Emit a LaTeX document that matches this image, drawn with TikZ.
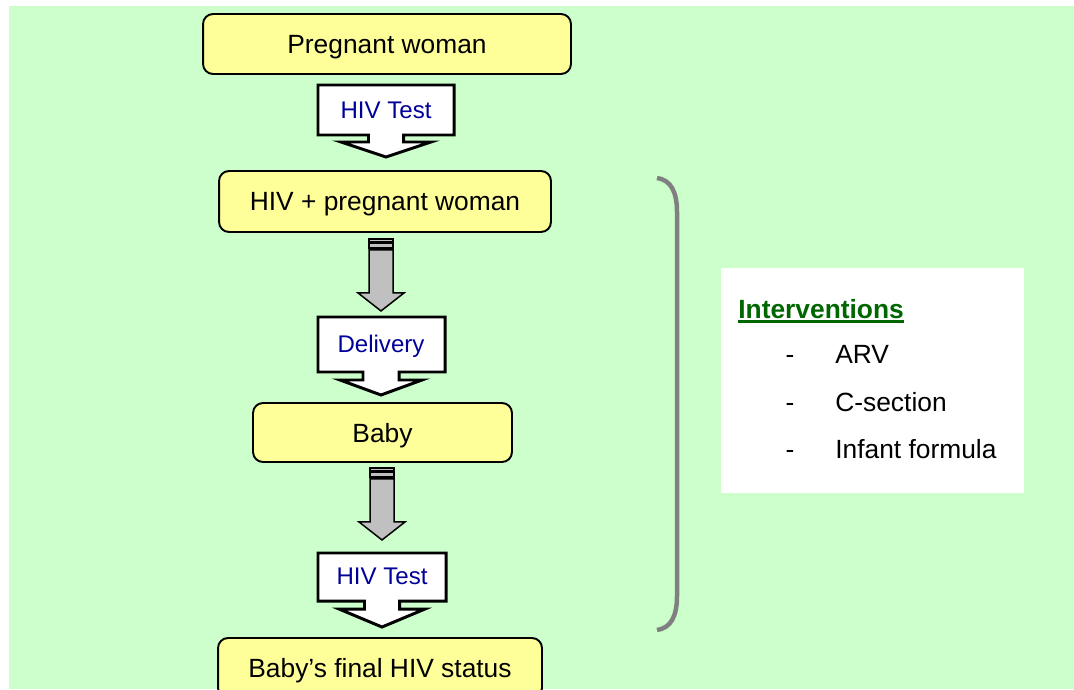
\documentclass[tikz,border=0pt]{standalone}
\usepackage{fontspec}
\setmainfont{Liberation Sans}
\usetikzlibrary{calc}
\definecolor{PageGreen}{RGB}{204,255,204}
\definecolor{BoxYellow}{RGB}{255,255,153}
\definecolor{LabelBlue}{RGB}{0,0,153}
\definecolor{TitleGreen}{RGB}{0,102,0}
\definecolor{ArrowGray}{RGB}{192,192,192}
\definecolor{BraceGray}{RGB}{128,128,128}

\begin{document}
\begin{tikzpicture}[x=0.02cm, y=-0.02cm, font=\fontsize{15}{18}\selectfont,
    stagebox/.style={draw, line width=1.1pt, rounded corners=5.7pt, fill=BoxYellow, minimum height=1.2cm, inner sep=0pt, text depth=0pt},
    callout/.style={draw, line width=1.7pt, fill=white, line join=miter},
    calloutlabel/.style={text=LabelBlue, font=\fontsize{13.7}{16}\selectfont, inner sep=0pt},
    listtext/.style={anchor=base west, inner sep=0pt},
    pics/grayarrow/.style={code={
      \draw[fill=ArrowGray, line width=0.85pt] (-12,0) rectangle (12,2.5);
      \draw[fill=ArrowGray, line width=0.85pt] (-12,4) rectangle (12,9);
      \draw[fill=ArrowGray, line width=0.85pt, line join=miter] (-12,11) -- (12,11) -- (12,54) -- (23,54) -- (0,72) -- (-23,54) -- (-12,54) -- cycle;
    }}]
      % page
      \useasboundingbox (0,0) rectangle (1074,689);
      \clip (0,0) rectangle (1074,689);
      \fill[PageGreen] (9,6) rectangle (1074,689);

      % stages
      \node[stagebox, minimum width=7.36cm] (preg) at (387,44) {Pregnant woman};
      \node[stagebox, minimum width=6.64cm, minimum height=1.22cm] (hivpos) at (385,201.5) {HIV + pregnant woman};
      \node[stagebox, minimum width=5.18cm, minimum height=1.18cm] (baby) at (382.5,432.5) {Baby};
      \node[stagebox, minimum width=6.48cm] (final) at (380,668) {Baby’s final HIV status};

      % callouts between stages
      \filldraw[callout] (318,85) -- (454,85) -- (454,135) -- (403.5,135) -- (403.5,142) -- (431,142) -- (386,157) -- (341,142) -- (368.5,142) -- (368.5,135) -- (318,135) -- cycle;
      \node[calloutlabel] (test1) at (386,110.5) {HIV Test};
      \filldraw[callout] (318,317) -- (445,317) -- (445,372) -- (399,372) -- (399,380) -- (422,380) -- (381,395) -- (340,380) -- (363,380) -- (363,372) -- (318,372) -- cycle;
      \node[calloutlabel] (deliv) at (381,346.5) {Delivery};
      \filldraw[callout] (318,553) -- (446,553) -- (446,601) -- (399.5,601) -- (399.5,609) -- (425,609) -- (382,627) -- (339,609) -- (364.5,609) -- (364.5,601) -- (318,601) -- cycle;
      \node[calloutlabel] (test2) at (382,576.5) {HIV Test};

      \pic at ($(hivpos.south -| deliv)+(0,6)$) {grayarrow};
      \pic at ($(baby.south -| test2)+(0,5)$) {grayarrow};

      % bracket
      \draw[BraceGray, line width=2.55pt] (657,178) .. controls (671,180) and (677,192) .. (677,212) -- (677,596) .. controls (677,616) and (671,628) .. (657,630);

      % interventions
      \node[fill=white, minimum width=6.06cm, minimum height=4.5cm, inner sep=0pt] (ivbox) at (872.5,380.5) {};
      \node[listtext, text=TitleGreen, font=\fontsize{15}{18}\selectfont\bfseries] (ivtitle) at (738,318) {Interventions};
      \draw[TitleGreen, line width=1.7pt] ($(ivtitle.base west)+(0,3.7)$) -- ($(ivtitle.base east)+(0,3.7)$);
      \node[anchor=base] (dash1) at (790,363.5) {-};
      \node[listtext] (arv) at (835,363.5) {ARV};
      \node[anchor=base] (dash2) at (790,411) {-};
      \node[listtext] (csec) at (835,411) {C-section};
      \node[anchor=base] (dash3) at (790,458.5) {-};
      \node[listtext] (formula) at (835,458.5) {Infant formula};
    \end{tikzpicture}
\end{document}
